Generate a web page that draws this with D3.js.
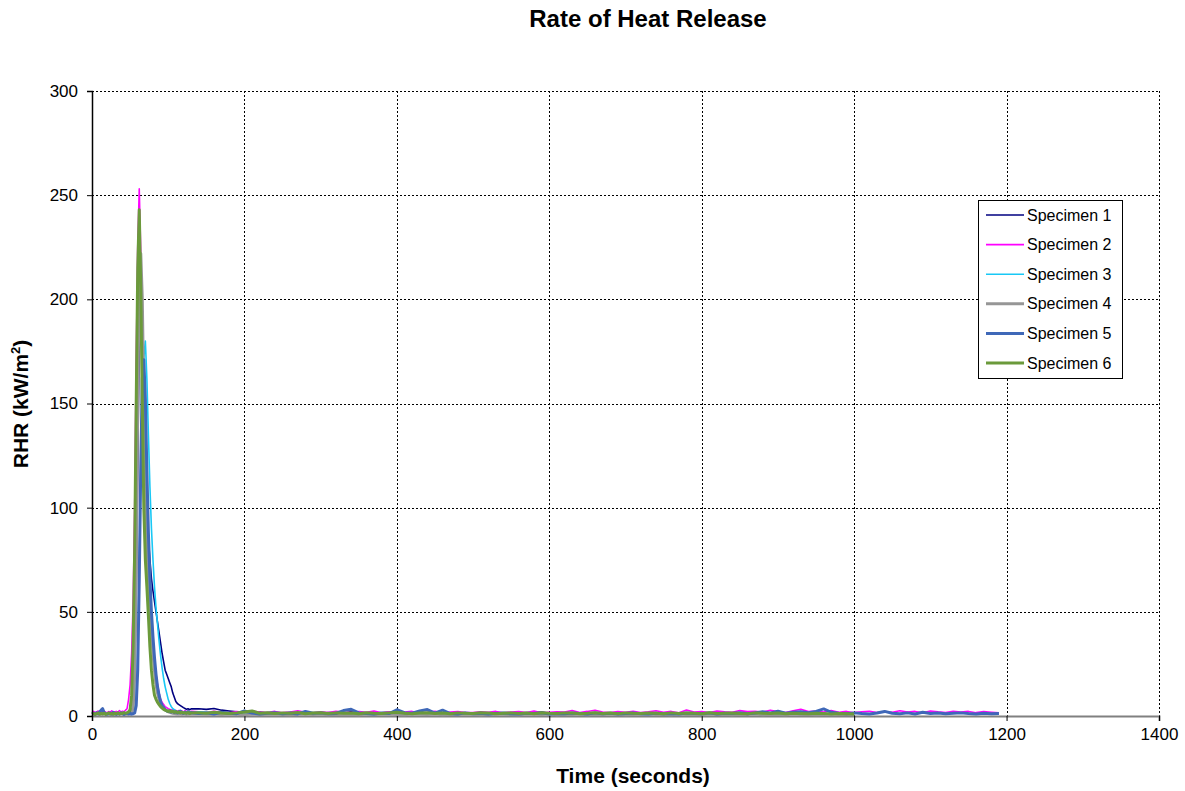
<!DOCTYPE html>
<html lang="en">
<head>
<meta charset="UTF-8">
<title>Rate of Heat Release</title>
<script src="https://d3js.org/d3.v7.min.js"></script>
<style>
body { margin: 0; background: #fff; font-family: "Liberation Sans", Arial, Helvetica, sans-serif; }
.grid line { stroke: #000; stroke-width: 1; stroke-dasharray: 2,2; shape-rendering: crispEdges; }
.axis text { font-size: 17px; fill: #000; font-family: "Liberation Sans", Arial, sans-serif; }
</style>
</head>
<body>
<div id="chart"></div>
<script>
// sample times (s)
var tPeak = [0,2,4,6,8,10,12,14,16,18,20,22,24,26,28,30,32,34,36,38,40,42,44,46,48,50,52,54,56,58,60,62,64,66,68,70,72,74,76,78,80,82,84,86,88,90,92,94,96,98,100,102,104,106,108,110,112,114,116,118,120,122,124,126,128,130];
var tTail = [140,150,160,170,180,190,200,210,220,230,240,250,260,270,280,290,300,310,320,330,340,350,360,370,380,390,400,410,420,430,440,450,460,470,480,490,500,510,520,530,540,550,560,570,580,590,600,610,620,630,640,650,660,670,680,690,700,710,720,730,740,750,760,770,780,790,800,810,820,830,840,850,860,870,880,890,900,910,920,930,940,950,960,970,980,990,1000,1010,1020,1030,1040,1050,1060,1070,1080,1090,1100,1110,1120,1130,1140,1150,1160,1170,1180,1190];

var xTicks = [0,200,400,600,800,1000,1200,1400];
var yTicks = [0,50,100,150,200,250,300];

var names = ["Specimen 1","Specimen 2","Specimen 3","Specimen 4","Specimen 5","Specimen 6"];
var colors = ["#000080","#ff00ff","#19c8f5","#969696","#3f68b8","#6b9a3b"];
var widths = [1.6,1.6,1.6,3,3,3];

// RHR (kW/m2), ignition peak
var s1Peak = [1.2,1.5,0.9,1.8,1.3,1.1,1.6,2.0,1.2,1.4,1.0,1.7,1.3,1.5,1.1,1.8,1.2,1.4,1.6,1.0,1.3,1.5,1.2,1.7,1.4,1.9,2.5,5,20,60,120,180,205,185,150,120,100,85,75,66,60,55,50,45,40,35,30,26,22,20,18,16,14,11,9,7,6,5.5,5,4.5,4,3.6,3.2,3.5,3.0,3.4];
var s2Peak = [1.8,2.2,1.6,1.9,2.4,1.5,2.0,1.7,2.3,1.8,1.6,2.1,1.9,2.5,1.7,2.0,2.2,1.8,2.6,1.9,2.3,2.0,2.8,3.5,8,15,30,55,100,170,225,253,222,175,135,105,85,70,55,44,35,27,20,15,11,8,6.5,5.5,4.5,4,3.5,3.2,3.0,2.8,2.5,2.7,2.3,2.6,2.2,2.4,2.0,2.5,2.1,2.3,1.9,2.2];
var s3Peak = [1.1,1.3,0.9,1.2,1.0,1.4,1.1,0.8,1.2,1.3,1.0,1.1,1.4,0.9,1.2,1.0,1.3,1.1,0.9,1.2,1.0,1.3,1.1,1.2,1.0,1.4,1.1,1.3,2,8,30,70,120,155,172,180,162,135,110,90,75,62,52,44,36,29,23,18,14,11,8,6,4.5,3.5,3,2.5,2.2,2.0,1.8,1.6,1.9,1.5,1.7,1.4,1.6,1.3];
var s4Peak = [0.8,1.0,0.7,1.1,0.9,0.6,1.0,0.8,1.2,0.7,0.9,1.0,0.8,0.6,1.1,0.9,0.7,1.0,0.8,1.2,0.9,0.7,1.0,0.8,1.1,0.9,1.5,4,20,70,150,210,222,200,150,108,80,62,50,40,30,22,15,11,8,6,5,4,3,2.5,2,1.8,1.5,1.3,1.2,1.0,1.1,0.9,1.0,0.8,0.9,1.0,0.7,0.9,0.8,1.0];
var s5Peak = [1.0,1.3,0.8,1.5,1.1,2.0,2.8,3.5,1.6,1.0,0.9,1.2,1.4,1.0,1.8,1.1,0.9,1.3,1.0,1.5,1.2,0.8,1.1,1.4,1.0,1.2,0.9,1.1,1.5,5,22,65,120,162,171,152,118,88,66,50,38,28,20,14,10,7,5,4,3,2.5,2.2,2.6,1.9,2.3,1.7,2.0,1.5,1.8,2.4,1.6,1.3,1.9,1.5,2.1,1.4,1.7];
var s6Peak = [1.0,1.2,0.8,1.1,1.4,0.9,1.2,1.0,1.3,0.8,1.1,1.5,1.0,1.2,0.9,1.3,1.1,1.6,1.0,1.4,1.2,1.7,1.3,1.5,2.0,3,10,35,80,150,215,243,205,150,100,75,62,48,33,22,15,10,8,6.5,5.5,4.5,3.8,3.2,2.8,2.5,2.2,2.6,2.0,2.3,1.8,2.1,1.7,1.9,1.5,1.8,1.4,1.6,1.3,1.7,1.2,1.5];

// RHR (kW/m2), after flame-out
var s1Tail = [3.5,3.2,3.6,2.8,2.4,2.0,1.8,1.5,1.9,1.4,1.7,1.3,1.6,1.2,1.8,1.4,1.1,1.7,1.5,1.2,2.1,1.6,1.3,1.0,1.5,1.8,1.4,1.2,1.6,1.9,1.3,1.1,1.5,1.2,1.7,1.0,1.3,1.5,1.1,1.4,1.2,1.6,1.0,1.3,1.5,1.9,1.2,1.0,1.4,1.1,1.3,1.6,1.2,0.9,1.3,1.1,1.5,1.0,1.2,1.4,0.9,1.1,1.3,1.0,1.5,1.2,0.9,1.4,1.1,1.6,1.0,1.2,0.9,1.3,1.1,1.4,1.0,1.2,0.9,1.3,1.1,1.0,1.2,0.9,1.1,1.0,0.8];
var s2Tail = [2.0,1.7,2.3,1.8,1.5,2.1,1.6,2.4,1.9,1.7,2.2,1.6,1.9,2.5,1.8,1.5,2.0,1.7,2.3,1.9,1.6,2.1,1.8,2.4,1.5,2.0,1.7,1.9,2.2,1.6,1.8,2.3,1.5,1.9,2.1,1.7,1.6,2.0,1.8,2.2,1.5,1.9,2.1,1.7,2.4,1.6,1.8,2.0,1.9,2.6,1.7,2.2,2.8,1.9,1.6,2.1,1.8,2.3,1.7,2.0,2.5,1.8,2.2,1.6,2.9,1.9,2.1,1.7,2.4,2.0,1.8,2.6,2.1,2.3,1.9,2.8,2.2,1.7,2.5,3.2,2.1,2.4,1.9,2.6,1.8,2.2,1.6,2.0,2.3,1.7,2.1,1.8,2.5,1.9,2.2,1.6,2.4,2.0,1.7,2.3,1.9,2.2,1.6,2.1,1.8,1.5];
var s3Tail = [2.0,1.8,1.6,1.4,1.5,1.3,1.2,1.4,1.1,1.3,1.2,1.0,1.3,1.1,1.4,1.2,1.0,1.3,1.1,1.2,1.0,1.4,1.2,1.1,1.3,1.0,1.2,1.5,1.1,1.0,1.3,1.1,1.2,1.0,1.4,1.1,1.3,1.0,1.2,1.1,1.0,1.3,1.2,1.1,1.4,1.0,1.2,1.3,1.1,1.0,1.2,1.1,1.3,1.0,1.2,1.4,1.1,1.0,1.3,1.2,1.0,1.1,1.3,1.2,1.0,1.4,1.1,1.2,1.0,1.3,1.1,1.0,1.2,1.3,1.1,1.0,1.2,1.1,1.3,1.0,1.2,1.1,1.0,1.3,1.1,1.0,1.2];
var s4Tail = [1.0,0.8,0.9,0.7,1.0,0.8,0.6,0.9,0.7,0.8,0.9,0.7,0.6,0.8,1.0,0.7,0.9,0.6,0.8,0.7,0.8,0.6,0.9,0.7,0.8,1.0,0.7,0.6,0.9,0.8,0.7,0.9,0.6,0.8,0.7,0.9,0.8,0.6,0.7,0.9,0.8,0.7,0.6,0.9,0.8,0.7,1.0,0.6,0.8,0.7,0.9,0.6,0.8,0.7,0.9,0.8,0.6,0.7,0.8,0.9,0.7,0.8,0.6,0.9,0.7,0.8,0.6,0.9,0.7,0.8,0.6,0.8,0.7,0.9,0.6,0.8,0.7,0.6,0.9,0.7,0.8,0.6,0.7,0.9,0.7,0.8,0.6];
var s5Tail = [1.2,1.5,1.0,1.8,1.3,1.1,2.4,1.4,1.0,1.3,1.6,1.1,1.4,1.0,2.2,1.3,1.5,1.1,1.2,2.6,3.2,1.5,1.2,1.0,1.4,1.2,3.0,1.6,1.3,2.4,3.1,1.4,2.8,1.2,1.0,1.5,1.1,1.3,1.0,1.2,1.4,1.1,1.0,1.3,1.2,1.6,1.0,1.2,1.1,1.4,1.2,1.0,1.5,1.1,1.3,1.0,1.2,1.4,1.1,1.0,1.3,1.1,1.2,1.0,1.4,1.2,1.1,1.5,1.0,1.3,1.2,1.6,1.1,1.4,2.0,1.5,2.3,1.3,1.8,2.1,1.6,2.2,3.4,1.8,1.3,1.1,1.5,1.2,1.0,1.4,2.2,1.3,1.1,1.5,1.0,1.8,1.2,1.4,1.1,1.3,1.5,1.2,1.0,1.3,1.1,1.2];
var s6Tail = [1.6,1.3,1.8,1.4,1.2,1.5,1.9,2.4,1.3,1.6,1.2,1.5,1.3,1.7,1.1,1.4,1.6,1.2,1.5,1.3,1.4,1.1,1.6,1.3,1.2,1.5,1.8,1.3,1.1,1.4,1.6,1.2,1.4,1.1,1.5,1.3,1.2,1.6,1.4,1.1,1.3,1.5,1.2,1.4,1.1,1.6,1.3,1.2,1.5,1.4,1.1,1.3,1.6,1.2,1.4,1.1,1.5,1.3,1.2,1.4,1.3,1.1,1.5,1.2,1.4,1.3,1.1,1.6,1.2,1.3,1.4,1.2,1.1,1.5,1.3,1.2,1.4,1.1,1.3,1.2,1.1,1.3,1.2,1.0,1.2,1.1,1.0];

var peaks = [s1Peak,s2Peak,s3Peak,s4Peak,s5Peak,s6Peak];
var tails = [s1Tail,s2Tail,s3Tail,s4Tail,s5Tail,s6Tail];

var W = 1185, H = 791;
var margin = {top: 91, right: 26, bottom: 75, left: 92},
    width = W - margin.left - margin.right,
    height = H - margin.top - margin.bottom;

var svg = d3.select("#chart").append("svg")
    .attr("width", W)
    .attr("height", H);

var g = svg.append("g")
    .attr("transform", "translate(" + margin.left + "," + margin.top + ")");

var x = d3.scaleLinear().domain([0, 1400]).range([0, width]);
var y = d3.scaleLinear().domain([0, 300]).range([height, 0]);

// grid
g.append("g").attr("class", "grid")
  .selectAll("line").data(yTicks.filter(function(d) { return d > 0; }))
  .enter().append("line")
    .attr("x1", 0).attr("x2", width)
    .attr("y1", function(d) { return Math.round(y(d)) + 0.5; })
    .attr("y2", function(d) { return Math.round(y(d)) + 0.5; });
g.append("g").attr("class", "grid")
  .selectAll("line").data(xTicks.filter(function(d) { return d > 0; }))
  .enter().append("line")
    .attr("y1", 0).attr("y2", height)
    .attr("x1", function(d) { return Math.round(x(d)) + 0.5; })
    .attr("x2", function(d) { return Math.round(x(d)) + 0.5; });

// lines
var line = d3.line()
  .x(function(d) { return x(d[0]); })
  .y(function(d) { return y(d[1]); });

var series = names.map(function(n, i) {
  var pts = tPeak.map(function(t, j) { return [t, peaks[i][j]]; });
  tails[i].forEach(function(v, j) { pts.push([tTail[j], v]); });
  return pts;
});

// x axis
var xAxis = g.append("g").attr("class", "axis")
  .attr("transform", "translate(0," + height + ")")
  .call(d3.axisBottom(x).tickValues(xTicks).tickSize(5).tickPadding(7).tickFormat(d3.format("d")));
xAxis.select(".domain").attr("stroke", "#808080").attr("stroke-width", 2);
xAxis.selectAll(".tick line").attr("stroke", "#000");

g.selectAll(".series").data(series).enter().append("path")
  .attr("class", "series")
  .attr("fill", "none")
  .attr("stroke", function(d, i) { return colors[i]; })
  .attr("stroke-width", function(d, i) { return widths[i]; })
  .attr("stroke-linejoin", "round")
  .attr("d", line);

// y axis
var yAxis = g.append("g").attr("class", "axis")
  .call(d3.axisLeft(y).tickValues(yTicks).tickSize(5).tickPadding(9));
yAxis.select(".domain").attr("stroke", "#000").attr("stroke-width", 1.5);

// titles
svg.append("text")
  .attr("x", 648).attr("y", 27)
  .attr("text-anchor", "middle")
  .style("font-size", "24px").style("font-weight", "bold")
  .text("Rate of Heat Release");

svg.append("text")
  .attr("x", 633).attr("y", 783)
  .attr("text-anchor", "middle")
  .style("font-size", "21px").style("font-weight", "bold")
  .text("Time (seconds)");

var yl = svg.append("text")
  .attr("transform", "translate(28," + 404 + ") rotate(-90)")
  .attr("text-anchor", "middle")
  .style("font-size", "21px").style("font-weight", "bold");
yl.append("tspan").text("RHR (kW/m");
yl.append("tspan").attr("dy", -8).style("font-size", "13px").text("2");
yl.append("tspan").attr("dy", 8).text(")");

// legend
var lg = svg.append("g").attr("transform", "translate(978,200)");
lg.append("rect")
  .attr("x", 0.5).attr("y", 0.5).attr("width", 144).attr("height", 178)
  .attr("fill", "#fff").attr("stroke", "#000").attr("stroke-width", 1);
var item = lg.selectAll(".item").data(names).enter().append("g")
  .attr("transform", function(d, i) { return "translate(0," + (15 + i * 29.6) + ")"; });
item.append("line")
  .attr("x1", 8).attr("x2", 46).attr("y1", 0).attr("y2", 0)
  .attr("stroke", function(d, i) { return colors[i]; })
  .attr("stroke-width", function(d, i) { return widths[i]; });
item.append("text")
  .attr("x", 49).attr("y", 5.5)
  .style("font-size", "16px")
  .text(function(d) { return d; });
</script>
</body>
</html>
